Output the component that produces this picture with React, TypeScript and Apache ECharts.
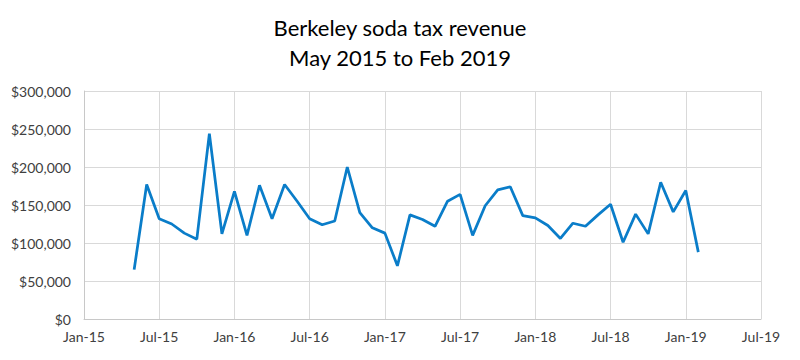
import React, { useEffect, useRef } from "react";
import * as echarts from "echarts";

const startMonthIndex = 4; // May 2015, months since Jan 2015
const revenue: number[] = [
  65000, 177000, 132000, 125000, 113000, 105000, 244000, 112000,
  168000, 110000, 176000, 132000, 177000, 155000, 132000, 124000, 129000, 200000, 140000, 120000,
  113000, 70000, 137000, 131000, 122000, 155000, 164000, 110000, 149000, 170000, 174000, 136000,
  133000, 123000, 106000, 126000, 122000, 137000, 151000, 101000, 138000, 112000, 180000, 141000,
  169000, 88000,
];
const monthNames = ["Jan", "Feb", "Mar", "Apr", "May", "Jun", "Jul", "Aug", "Sep", "Oct", "Nov", "Dec"];
const titleLines = ["Berkeley soda tax revenue", "May 2015 to Feb 2019"];

export default function App() {
  const ref = useRef<HTMLDivElement>(null);
  useEffect(() => {
    if (!ref.current) return;
    const chart = echarts.init(ref.current, undefined, { renderer: "svg" });
    const data = revenue.map((v, i) => [startMonthIndex + i, v]);
    const font = "Lato, 'Liberation Sans', Arial, sans-serif";
    chart.setOption({
      animation: false,
      backgroundColor: "#ffffff",
      title: {
        text: titleLines.join("\n"),
        left: "center",
        top: 7,
        textStyle: { fontFamily: font, fontSize: 22, fontWeight: "normal", color: "#000000", lineHeight: 30 },
      },
      grid: { left: 84, right: 39, top: 91, bottom: 41, containLabel: false, show: false },
      xAxis: {
        type: "value",
        min: 0,
        max: 54,
        interval: 6,
        axisLine: { show: true, onZero: false, lineStyle: { color: "#C8C8C8" } },
        axisTick: { show: false },
        splitLine: { show: true, lineStyle: { color: "#D9D9D9", width: 1 } },
        axisLabel: {
          margin: 10,
          fontFamily: font,
          fontSize: 14,
          color: "#404040",
          formatter: (v: number) => {
            const y = 15 + Math.floor(v / 12);
            return `${monthNames[v % 12]}-${y}`;
          },
        },
      },
      yAxis: {
        type: "value",
        min: 0,
        max: 300000,
        interval: 50000,
        axisLine: { show: true, lineStyle: { color: "#C8C8C8" } },
        axisTick: { show: false },
        splitLine: { show: true, lineStyle: { color: "#D9D9D9", width: 1 } },
        axisLabel: {
          margin: 13,
          fontFamily: font,
          fontSize: 14,
          color: "#404040",
          formatter: (v: number) => "$" + v.toLocaleString("en-US"),
        },
      },
      series: [
        {
          type: "line",
          data,
          showSymbol: false,
          symbol: "none",
          lineStyle: { color: "#0A7DC9", width: 2.75 },
          itemStyle: { color: "#0A7DC9" },
        },
      ],
    });
    return () => chart.dispose();
  }, []);
  return <div ref={ref} style={{ width: 800, height: 360, position: "absolute", left: 0, top: 0 }} />;
}
